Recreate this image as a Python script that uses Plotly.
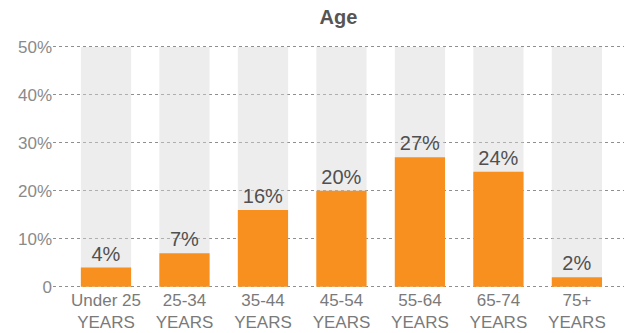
import plotly.graph_objects as go

categories = ["Under 25<br>YEARS", "25-34<br>YEARS", "35-44<br>YEARS", "45-54<br>YEARS",
              "55-64<br>YEARS", "65-74<br>YEARS", "75+<br>YEARS"]
values = [4, 7, 16, 20, 27, 24, 2]
labels = ["4%", "7%", "16%", "20%", "27%", "24%", "2%"]
background = [50, 50, 50, 50, 50, 50, 50]
ytick_vals = [0, 10, 20, 30, 40, 50]
ytick_text = ["0", "10%", "20%", "30%", "40%", "50%"]

xs = list(range(len(categories)))

fig = go.Figure()
fig.add_trace(go.Bar(x=xs, y=background, width=0.64,
                     marker=dict(color="rgba(215,215,215,0.45)", line=dict(width=0)),
                     hoverinfo="skip"))
fig.add_trace(go.Bar(x=xs, y=values, width=0.64, text=labels, textposition="outside",
                     textfont=dict(size=20, color="#505050", family="Liberation Sans"),
                     marker=dict(color="#f7901e", line=dict(width=0)),
                     cliponaxis=False))

fig.update_layout(
    width=624, height=333,
    barmode="overlay",
    showlegend=False,
    plot_bgcolor="white", paper_bgcolor="white",
    margin=dict(l=53, r=0, t=45, b=45),
    font=dict(family="Liberation Sans"),
    title=dict(text="<b>Age</b>", x=0.5, xref="paper", y=0.97, yanchor="top",
               font=dict(size=20, color="#555555")),
)
fig.update_xaxes(range=[-0.675, 6.6], tickvals=xs, ticktext=categories,
                 showgrid=False, zeroline=False, showline=False, ticks="",
                 tickfont=dict(size=17, color="#7a7a7a"))
fig.update_yaxes(range=[-0.25, 50.4], tickvals=ytick_vals, ticktext=ytick_text,
                 showgrid=True, gridcolor="#8f8f8f", griddash="dot", gridwidth=1,
                 zeroline=False, showline=False, ticks="",
                 tickfont=dict(size=17, color="#8a8a8a"))

fig.write_html("out.html")
